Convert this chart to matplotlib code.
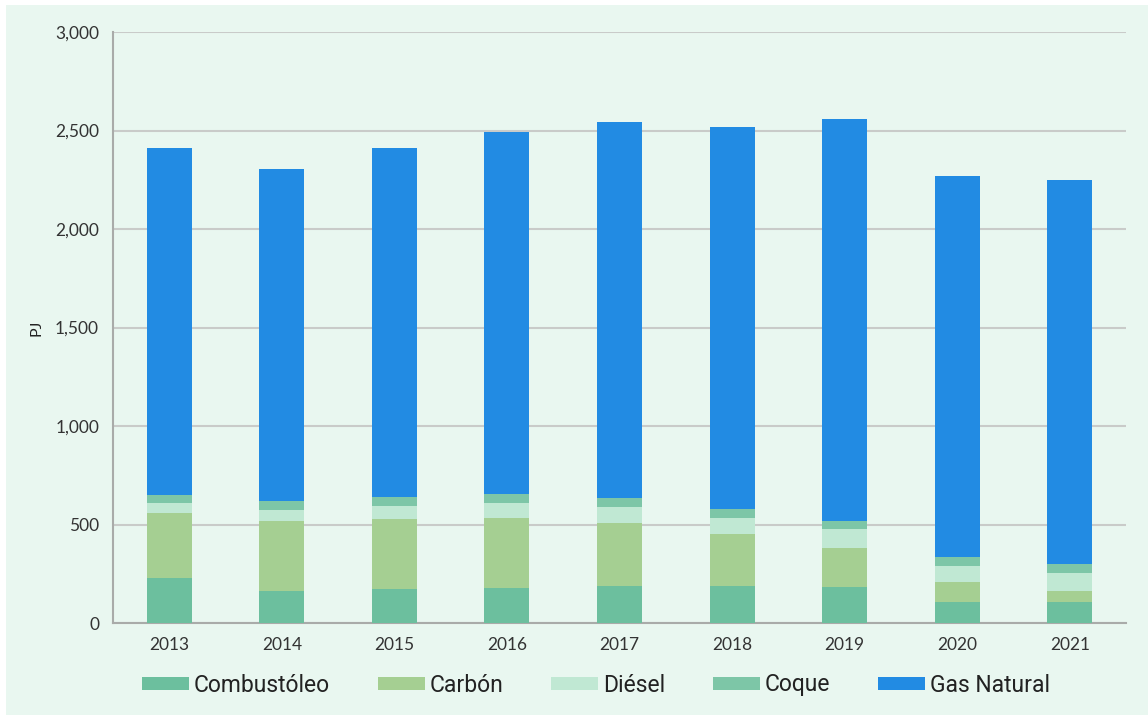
import matplotlib.pyplot as plt
import numpy as np
from matplotlib.patches import Rectangle
from matplotlib.ticker import FuncFormatter

years = ['2013', '2014', '2015', '2016', '2017', '2018', '2019', '2020', '2021']
combustoleo = [230, 162, 171, 179, 188, 188, 181, 108, 108]
carbon = [330, 357, 355, 354, 321, 264, 198, 101, 54]
diesel = [47, 55, 68, 74, 78, 83, 96, 81, 90]
coque = [44, 44, 44, 46, 46, 42, 44, 46, 46]
gas_natural = [1762, 1687, 1772, 1837, 1912, 1941, 2041, 1932, 1952]

series = [
    ('Combustóleo', combustoleo, '#6cbf9e'),
    ('Carbón', carbon, '#a5cf92'),
    ('Diésel', diesel, '#c0e8d3'),
    ('Coque', coque, '#7dc6a7'),
    ('Gas Natural', gas_natural, '#228be3'),
]

bg = '#e9f7f0'
fig = plt.figure(figsize=(11.48, 7.19), dpi=100, facecolor='white')
fig.patches.append(Rectangle((6 / 1148, 4 / 719), 1 - 6 / 1148, 1 - 9 / 719,
                             transform=fig.transFigure, facecolor=bg,
                             edgecolor='none', zorder=-10))
ax = fig.add_axes([113 / 1148, 1 - 623 / 719, (1126 - 113) / 1148, (623 - 32) / 719])
ax.set_facecolor(bg)

x = np.arange(len(years))
bottom = np.zeros(len(years))
for name, vals, color in series:
    ax.bar(x, vals, width=0.4, bottom=bottom, color=color, label=name, zorder=3)
    bottom += np.array(vals)

ax.set_xlim(-0.5, len(years) - 0.5)
ax.set_ylim(0, 3000)
ax.set_yticks(np.arange(0, 3001, 500))
ax.yaxis.set_major_formatter(FuncFormatter(lambda v, p: f'{int(v):,}'))
ax.set_xticks(x)
ax.set_xticklabels(years)
ax.grid(axis='y', color='#c9cbc9', linewidth=1.5, zorder=0)
ax.tick_params(length=0, labelsize=12.5, colors='#333333', pad=10)
for lbl in ax.get_xticklabels() + ax.get_yticklabels():
    lbl.set_family('Lato')
for s in ['top', 'right']:
    ax.spines[s].set_visible(False)
for s in ['left', 'bottom']:
    ax.spines[s].set_color('#a9aba9')
    ax.spines[s].set_linewidth(1.5)
ax.set_ylabel('PJ', fontsize=11.5, family='Lato', color='#222222', labelpad=8)

leg = fig.legend(loc='center', bbox_to_anchor=(0.519, 1 - 685 / 719), ncol=5,
                 frameon=False, prop={'family': 'Roboto', 'size': 16.5},
                 handlelength=2.05, handleheight=0.52, handletextpad=0.2,
                 columnspacing=2.1)
for t in leg.get_texts():
    t.set_color('#222222')

fig.savefig('out.png', dpi=100, facecolor=fig.get_facecolor())
